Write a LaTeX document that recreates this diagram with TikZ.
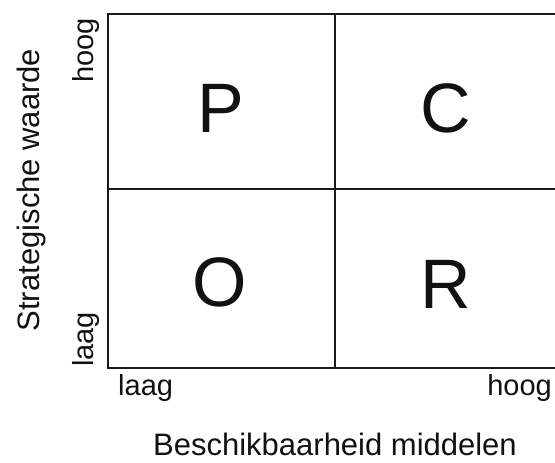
\documentclass[tikz,border=0pt]{standalone}
\usepackage{fontspec}
\setmainfont{Liberation Sans}
\usepackage{tikz}
\usepackage{xcolor}
\usetikzlibrary{positioning, calc}
\definecolor{cGrid}{HTML}{1A1A1A}
\definecolor{cText}{HTML}{111111}

\begin{document}
\begin{tikzpicture}[x=1pt, y=1pt,
    gridline/.style={draw=cGrid, line width=1.5pt},
    quadletter/.style={font=\fontsize{70}{70}\selectfont, text=cText, inner sep=0pt},
    ticklabel/.style={font=\fontsize{29}{29}\selectfont, text=cText, inner sep=0pt},
    axistitle/.style={font=\fontsize{31}{31}\selectfont, text=cText, inner sep=0pt}]
  \useasboundingbox (0,0) rectangle (555,463);
  % frame, open at the right side
  \coordinate (tl) at (108,449);
  \coordinate (bl) at (108,95);
  \coordinate (tr) at (556,449);
  \coordinate (br) at (556,95);
  \coordinate (mt) at (335,449);
  \coordinate (mb) at (335,95);
  \coordinate (ml) at (108,274);
  \coordinate (mr) at (556,274);
  \draw[gridline] (tr) -- (tl) -- (bl) -- (br);
  \draw[gridline] (mt) -- (mb);
  \draw[gridline] (ml) -- (mr);
  % quadrant letters
  \node[quadletter] (qP) at (221,355) {P};
  \node[quadletter] (qC) at (446,355) {C};
  \node[quadletter] (qO) at (220,181) {O};
  \node[quadletter] (qR) at (446,179) {R};
  % vertical axis
  \node[ticklabel, rotate=90, anchor=base west] (yhigh) at (93,380) {hoog};
  \node[ticklabel, rotate=90, anchor=base west] (ylow) at (93,96) {laag};
  \node[axistitle, rotate=90, anchor=base] (ytitle) at (39,273) {Strategische waarde};
  % horizontal axis
  \node[ticklabel, anchor=base west] (xlow) at (118,67) {laag};
  \node[ticklabel, anchor=base east] (xhigh) at (552,67) {hoog};
  \node[axistitle, anchor=base] (xtitle) at (335,7) {Beschikbaarheid middelen};
\end{tikzpicture}
\end{document}
